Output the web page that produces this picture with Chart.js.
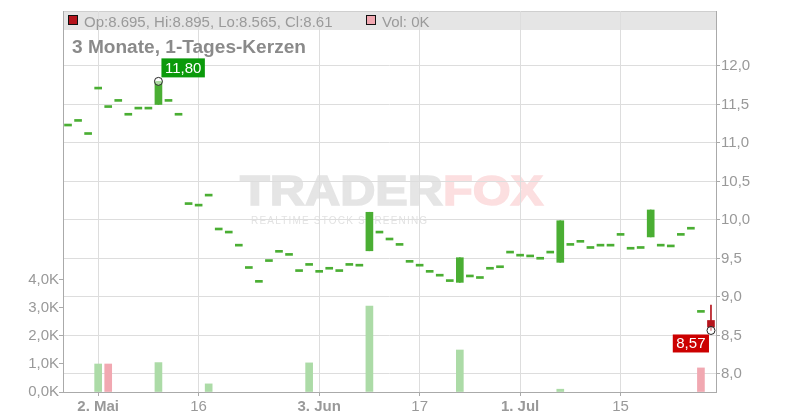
<!DOCTYPE html>
<html lang="de">
<head>
<meta charset="UTF-8">
<title>3 Monate, 1-Tages-Kerzen</title>
<script src="https://cdn.jsdelivr.net/npm/chart.js"></script>
<style>
  html, body { margin: 0; padding: 0; background: #fff; }
  #chart { display: block; }
</style>
</head>
<body>
<canvas id="chart" width="800" height="420"></canvas>
<script>
// trading days shown on the chart
const dates = [
  '2024-04-26', '2024-04-29', '2024-04-30', '2024-05-02', '2024-05-03', '2024-05-06', '2024-05-07', '2024-05-08',
  '2024-05-09', '2024-05-10', '2024-05-13', '2024-05-14', '2024-05-15', '2024-05-16', '2024-05-17', '2024-05-20',
  '2024-05-21', '2024-05-22', '2024-05-23', '2024-05-24', '2024-05-27', '2024-05-28', '2024-05-29', '2024-05-30',
  '2024-05-31', '2024-06-03', '2024-06-04', '2024-06-05', '2024-06-06', '2024-06-07', '2024-06-10', '2024-06-11',
  '2024-06-12', '2024-06-13', '2024-06-14', '2024-06-17', '2024-06-18', '2024-06-19', '2024-06-20', '2024-06-21',
  '2024-06-24', '2024-06-25', '2024-06-26', '2024-06-27', '2024-06-28', '2024-07-01', '2024-07-02', '2024-07-03',
  '2024-07-04', '2024-07-05', '2024-07-08', '2024-07-09', '2024-07-10', '2024-07-11', '2024-07-12', '2024-07-15',
  '2024-07-16', '2024-07-17', '2024-07-18', '2024-07-19', '2024-07-22', '2024-07-23', '2024-07-24', '2024-07-25',
  '2024-07-26'
];

const openPx = [
  11.22, 11.28, 11.11, 11.70, 11.46, 11.54, 11.36, 11.44, 11.44, 11.50, 11.54, 11.36, 10.20, 10.18, 10.31, 9.87,
  9.83, 9.66, 9.37, 9.19, 9.46, 9.58, 9.54, 9.33, 9.41, 9.32, 9.36, 9.33, 9.41, 9.40, 9.60, 9.83,
  9.74, 9.67, 9.45, 9.40, 9.32, 9.27, 9.20, 9.19, 9.26, 9.24, 9.36, 9.38, 9.57, 9.53, 9.52, 9.49,
  9.57, 9.45, 9.67, 9.71, 9.63, 9.66, 9.66, 9.80, 9.62, 9.63, 9.78, 9.66, 9.65, 9.80, 9.88, 8.80,
  8.695
];
const closePx = [
  11.22, 11.28, 11.11, 11.70, 11.46, 11.54, 11.36, 11.44, 11.44, 11.80, 11.54, 11.36, 10.20, 10.18, 10.31, 9.87,
  9.83, 9.66, 9.37, 9.19, 9.46, 9.58, 9.54, 9.33, 9.41, 9.32, 9.36, 9.33, 9.41, 9.40, 10.10, 9.83,
  9.74, 9.67, 9.45, 9.40, 9.32, 9.27, 9.20, 9.51, 9.26, 9.24, 9.36, 9.38, 9.57, 9.53, 9.52, 9.49,
  9.57, 9.99, 9.67, 9.71, 9.63, 9.66, 9.66, 9.80, 9.62, 9.63, 10.13, 9.66, 9.65, 9.80, 9.88, 8.80,
  8.61
];
const highPx = [
  11.22, 11.28, 11.11, 11.70, 11.46, 11.54, 11.36, 11.44, 11.44, 11.80, 11.54, 11.36, 10.20, 10.18, 10.31, 9.87,
  9.83, 9.66, 9.37, 9.19, 9.46, 9.58, 9.54, 9.33, 9.41, 9.32, 9.36, 9.33, 9.41, 9.40, 10.10, 9.83,
  9.74, 9.67, 9.45, 9.40, 9.32, 9.27, 9.20, 9.51, 9.26, 9.24, 9.36, 9.38, 9.57, 9.53, 9.52, 9.49,
  9.57, 9.99, 9.67, 9.71, 9.63, 9.66, 9.66, 9.80, 9.62, 9.63, 10.13, 9.66, 9.65, 9.80, 9.88, 8.80,
  8.895
];
const lowPx = [
  11.22, 11.28, 11.11, 11.70, 11.46, 11.54, 11.36, 11.44, 11.44, 11.50, 11.54, 11.36, 10.20, 10.18, 10.31, 9.87,
  9.83, 9.66, 9.37, 9.19, 9.46, 9.58, 9.54, 9.33, 9.41, 9.32, 9.36, 9.33, 9.41, 9.40, 9.60, 9.83,
  9.74, 9.67, 9.45, 9.40, 9.32, 9.27, 9.20, 9.19, 9.26, 9.24, 9.36, 9.38, 9.57, 9.53, 9.52, 9.49,
  9.57, 9.45, 9.67, 9.71, 9.63, 9.66, 9.66, 9.80, 9.62, 9.63, 9.78, 9.66, 9.65, 9.80, 9.88, 8.80,
  8.565
];
// volume in thousands
const volumeK = [
  0, 0, 0, 1.0, 1.0, 0, 0, 0, 0, 1.05, 0, 0, 0, 0, 0.29, 0,
  0, 0, 0, 0, 0, 0, 0, 0, 1.04, 0, 0, 0, 0, 0, 3.07, 0,
  0, 0, 0, 0, 0, 0, 0, 1.5, 0, 0, 0, 0, 0, 0, 0, 0,
  0, 0.1, 0, 0, 0, 0, 0, 0, 0, 0, 0, 0, 0, 0, 0, 0.86,
  0
];

const xTickDates = ['2024-05-02', '2024-05-16', '2024-06-03', '2024-06-17', '2024-07-01', '2024-07-15'];
const xTickText = ['2. Mai', '16', '3. Jun', '17', '1. Jul', '15'];
const xTickBold = [true, false, true, false, true, false];
const priceTicks = [8.0, 8.5, 9.0, 9.5, 10.0, 10.5, 11.0, 11.5, 12.0];
const volTicks = [0, 1, 2, 3, 4];

const FONT = "'Liberation Sans', Arial, sans-serif";
const GREEN = '#4aae33';
const RED = '#b5141c';
const VOL_GREEN = '#acdba7';
const VOL_RED = '#f1a8b1';

const candleColors = openPx.map((o, i) => closePx[i] >= o ? GREEN : RED);
const volColors = closePx.map((c, i) => (i > 0 && c < closePx[i - 1]) ? VOL_RED : VOL_GREEN);

// extremes for the markers
var maxIdx = 0, minIdx = 0;
for (var i = 0; i < highPx.length; i++) {
  if (highPx[i] > highPx[maxIdx]) maxIdx = i;
  if (lowPx[i] < lowPx[minIdx]) minIdx = i;
}
const markerData = dates.map((d, i) => i === maxIdx ? highPx[i] : (i === minIdx ? lowPx[i] : null));

function fmt(v, digits) {
  return (v + 1e-9).toFixed(digits).replace('.', ',');
}

// header band, title and watermark behind the grid
const backdrop = {
  id: 'backdrop',
  beforeDraw(chart) {
    const ctx = chart.ctx;
    const a = chart.chartArea;
    ctx.save();
    ctx.fillStyle = '#e5e5e5';
    ctx.fillRect(a.left, a.top, a.right - a.left, 19);
    ctx.fillStyle = '#cfcfcf';
    ctx.fillRect(a.left, a.top, a.right - a.left, 1);

    // watermark
    ctx.save();
    ctx.translate(240, 205);
    ctx.scale(1.16, 1);
    ctx.font = 'bold 42px ' + FONT;
    ctx.textBaseline = 'alphabetic';
    ctx.fillStyle = '#e5e5e5';
    ctx.strokeStyle = '#e5e5e5';
    ctx.lineWidth = 1.5;
    ctx.fillText('TRADER', 0, 0);
    ctx.strokeText('TRADER', 0, 0);
    const w = ctx.measureText('TRADER').width;
    ctx.fillStyle = '#fcdfe0';
    ctx.strokeStyle = '#fcdfe0';
    ctx.fillText('FOX', w, 0);
    ctx.strokeText('FOX', w, 0);
    ctx.restore();
    ctx.font = '10px ' + FONT;
    ctx.letterSpacing = '1.2px';
    ctx.fillStyle = '#e2e2e2';
    ctx.fillText('REALTIME STOCK SCREENING', 251, 224);
    ctx.letterSpacing = '0px';
    ctx.restore();
  },
  afterDraw(chart) {
    const ctx = chart.ctx;
    const last = dates.length - 1;
    ctx.save();
    ctx.textBaseline = 'alphabetic';
    // legend row
    ctx.fillStyle = RED;
    ctx.fillRect(68, 15, 10, 10);
    ctx.strokeStyle = '#111';
    ctx.lineWidth = 1;
    ctx.strokeRect(68.5, 15.5, 9, 9);
    ctx.font = '15px ' + FONT;
    ctx.fillStyle = '#9a9a9a';
    ctx.fillText('Op:' + openPx[last] + ', Hi:' + highPx[last] + ', Lo:' + lowPx[last] + ', Cl:' + closePx[last], 84, 27);
    ctx.fillStyle = VOL_RED;
    ctx.fillRect(366, 15, 10, 10);
    ctx.strokeRect(366.5, 15.5, 9, 9);
    ctx.fillStyle = '#9a9a9a';
    ctx.fillText('Vol: ' + volumeK[last] + 'K', 382, 27);
    // title
    ctx.translate(72, 53);
    ctx.scale(1.06, 1);
    ctx.font = 'bold 18px ' + FONT;
    ctx.fillStyle = '#8a8a8a';
    ctx.fillText('3 Monate, 1-Tages-Kerzen', 0, 0);
    ctx.restore();
  }
};

// value boxes at the high and low
const extremeLabels = {
  id: 'extremeLabels',
  afterDatasetsDraw(chart) {
    const ctx = chart.ctx;
    const x = chart.scales.x;
    const y = chart.scales.yPrice;
    ctx.save();
    ctx.font = '15px ' + FONT;
    ctx.textBaseline = 'middle';

    var px = x.getPixelForValue(maxIdx), py = y.getPixelForValue(highPx[maxIdx]);
    var txt = fmt(highPx[maxIdx], 2);
    var tw = ctx.measureText(txt).width + 7;
    ctx.fillStyle = '#0b9a0b';
    ctx.fillRect(px + 3, py - 23, tw, 19);
    ctx.fillStyle = '#fff';
    ctx.fillText(txt, px + 6.5, py - 13);

    px = x.getPixelForValue(minIdx); py = y.getPixelForValue(lowPx[minIdx]);
    txt = fmt(lowPx[minIdx], 2);
    tw = ctx.measureText(txt).width + 7;
    ctx.fillStyle = '#cc0000';
    ctx.fillRect(px - 2 - tw, py + 4, tw, 18);
    ctx.fillStyle = '#fff';
    ctx.fillText(txt, px - 2 - tw + 3.5, py + 13.5);
    ctx.restore();
  }
};

function isBoldLabel(label) {
  const k = xTickText.indexOf(label);
  return k >= 0 && xTickBold[k];
}

const chart = new Chart(document.getElementById('chart'), {
  type: 'bar',
  data: {
    labels: dates,
    datasets: [
      {
        type: 'line',
        data: markerData,
        yAxisID: 'yPrice',
        showLine: false,
        pointRadius: 4,
        pointBorderWidth: 1,
        pointBorderColor: '#222',
        pointBackgroundColor: 'rgba(255,255,255,0.55)',
        order: 0
      },
      {
        data: dates.map((d, i) => [openPx[i], closePx[i]]),
        yAxisID: 'yPrice',
        backgroundColor: candleColors,
        barThickness: 7,
        minBarLength: 2,
        grouped: false,
        order: 1
      },
      {
        data: dates.map((d, i) => highPx[i] > lowPx[i] ? [lowPx[i], highPx[i]] : null),
        yAxisID: 'yPrice',
        backgroundColor: candleColors,
        barThickness: 1,
        grouped: false,
        order: 2
      },
      {
        data: volumeK.map(v => v > 0 ? v : null),
        yAxisID: 'yVol',
        backgroundColor: volColors,
        barThickness: 7,
        grouped: false,
        order: 3
      }
    ]
  },
  options: {
    responsive: false,
    animation: false,
    devicePixelRatio: 1,
    layout: { padding: { top: 11, left: 0, right: 0, bottom: 0 } },
    plugins: {
      legend: { display: false },
      tooltip: { enabled: false }
    },
    scales: {
      x: {
        offset: true,
        grid: { offset: false, color: '#dddddd', tickColor: '#aaaaaa', tickLength: 4 },
        border: { color: '#aaaaaa' },
        ticks: {
          autoSkip: false,
          maxRotation: 0,
          padding: 2,
          color: '#999999',
          font: function (c) {
            const lbl = c.tick ? c.tick.label : null;
            return { family: FONT, size: 15, weight: isBoldLabel(lbl) ? 'bold' : 'normal' };
          },
          callback: function (value) {
            const k = xTickDates.indexOf(dates[value]);
            return k >= 0 ? xTickText[k] : null;
          }
        },
        afterBuildTicks: function (s) {
          s.ticks = s.ticks.filter(t => xTickDates.indexOf(dates[t.value]) >= 0);
        },
        afterFit: function (s) { s.height = 28; }
      },
      yPrice: {
        position: 'right',
        min: 7.766,
        max: 12.714,
        grid: { color: '#dddddd', tickColor: '#aaaaaa', tickLength: 4 },
        border: { color: '#aaaaaa' },
        ticks: {
          padding: 1,
          color: '#999999',
          font: { family: FONT, size: 15 },
          callback: function (v) { return fmt(v, 1); }
        },
        afterBuildTicks: function (s) { s.ticks = priceTicks.map(v => ({ value: v })); },
        afterFit: function (s) { s.width = 84; }
      },
      yVol: {
        position: 'left',
        min: 0,
        max: 13.607,
        grid: { drawOnChartArea: false, tickColor: '#aaaaaa', tickLength: 4 },
        border: { color: '#aaaaaa' },
        ticks: {
          padding: 0,
          color: '#999999',
          font: { family: FONT, size: 15 },
          callback: function (v) { return fmt(v, 1) + 'K'; }
        },
        afterBuildTicks: function (s) { s.ticks = volTicks.map(v => ({ value: v })); },
        afterFit: function (s) { s.width = 63; }
      }
    }
  },
  plugins: [backdrop, extremeLabels]
});
</script>
</body>
</html>
